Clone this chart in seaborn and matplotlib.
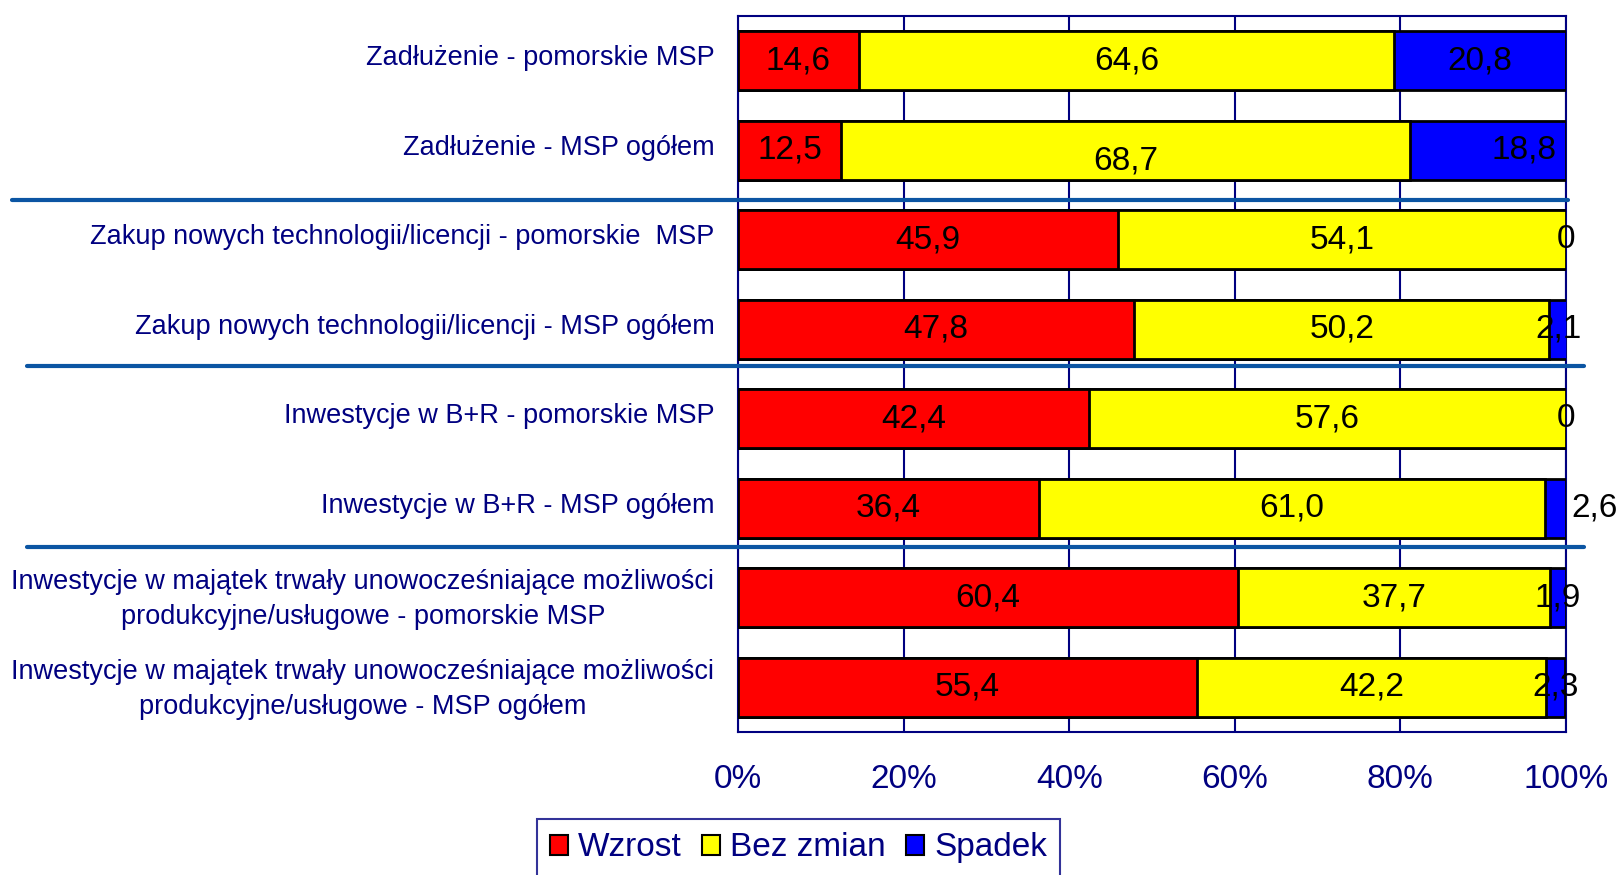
import matplotlib
matplotlib.use("Agg")
import matplotlib.pyplot as plt
import matplotlib.transforms as mtransforms
from matplotlib.patches import Patch
import seaborn as sns
import numpy as np

# data
categories = [
    "Zadłużenie - pomorskie MSP",
    "Zadłużenie - MSP ogółem",
    "Zakup nowych technologii/licencji - pomorskie  MSP",
    "Zakup nowych technologii/licencji - MSP ogółem",
    "Inwestycje w B+R - pomorskie MSP",
    "Inwestycje w B+R - MSP ogółem",
    "Inwestycje w majątek trwały unowocześniające możliwości\nprodukcyjne/usługowe - pomorskie MSP",
    "Inwestycje w majątek trwały unowocześniające możliwości\nprodukcyjne/usługowe - MSP ogółem",
]
wzrost = [14.6, 12.5, 45.9, 47.8, 42.4, 36.4, 60.4, 55.4]
bez_zmian = [64.6, 68.7, 54.1, 50.2, 57.6, 61.0, 37.7, 42.2]
spadek = [20.8, 18.8, 0, 2.1, 0, 2.6, 1.9, 2.3]
series_names = ["Wzrost", "Bez zmian", "Spadek"]
series_colors = ["#FF0000", "#FFFF00", "#0000FF"]
xticks = [0, 20, 40, 60, 80, 100]

NAVY = "#000080"
SEP = "#0B55A3"

sns.set_style("white")
plt.rcParams["font.family"] = ["Liberation Sans", "DejaVu Sans"]

fig = plt.figure(figsize=(16.23, 8.75), dpi=100)
ax = fig.add_axes([0.4547, 0.1634, 0.5102, 0.8183])

w = np.array(wzrost)
b = np.array(bez_zmian)
s = np.array(spadek)

# stacked bars: draw cumulative totals back to front
layers = [w + b + s, w + b, w]
for vals, col in zip(layers, series_colors[::-1]):
    sns.barplot(x=vals, y=categories, orient="h", color=col, width=0.66,
                edgecolor="black", linewidth=2, saturation=1, ax=ax, zorder=3)

ax.set_xlim(0, 100)
ax.set_ylim(7.5, -0.5)
ax.set_xticks(xticks)
ax.set_xticklabels([f"{t}%" for t in xticks])
ax.grid(axis="x", color=NAVY, linewidth=1.5, zorder=0)
ax.set_axisbelow(True)
ax.set_xlabel("")
ax.set_ylabel("")

for sp in ax.spines.values():
    sp.set_color(NAVY)
    sp.set_linewidth(1.5)

ax.tick_params(axis="x", colors=NAVY, labelsize=24, length=8, width=1.5,
               direction="inout", pad=19)
ax.tick_params(axis="y", which="major", length=0, pad=17, labelsize=19.5,
               labelcolor=NAVY)
ax.set_yticks(np.arange(-0.5, 8, 1), minor=True)
ax.tick_params(axis="y", which="minor", length=6, width=1.5, color=NAVY)
shift_up = mtransforms.ScaledTranslation(0, 4 / 72, fig.dpi_scale_trans)
for lab in ax.get_yticklabels():
    lab.set_multialignment("center")
    lab.set_linespacing(1.45)
    lab.set_transform(lab.get_transform() + shift_up)

# value labels
for i in range(len(categories)):
    starts = [0, w[i], w[i] + b[i]]
    for j, v in enumerate([w[i], b[i], s[i]]):
        txt = f"{v:.1f}".replace(".", ",") if v else "0"
        xc = min(starts[j] + v / 2, 100)
        dy = 0
        ha = "center"
        if i == 1 and j == 1:
            dy = 0.12
        if i == 1 and j == 2:
            xc = 98.8
            ha = "right"
        if i == 5 and j == 2:
            xc = 100.6
            ha = "left"
        ax.text(xc, i + dy, txt, ha=ha, va="center", fontsize=24,
                color="black", zorder=5, clip_on=False)

# separator lines between groups
tr = mtransforms.blended_transform_factory(fig.transFigure, ax.transData)
for y, x0, x1 in [(1.56, 0.0077, 0.966), (3.41, 0.0166, 0.976), (5.43, 0.0166, 0.976)]:
    ax.plot([x0, x1], [y, y], color=SEP, linewidth=3, transform=tr,
            clip_on=False, zorder=6)

handles = [Patch(facecolor=c, edgecolor="black", linewidth=1.5) for c in series_colors]
leg = fig.legend(handles, series_names, loc="upper center",
                 bbox_to_anchor=(0.492, 0.064), ncol=3, fontsize=24,
                 frameon=True, fancybox=False, handlelength=0.55,
                 handleheight=0.55, handletextpad=0.3, columnspacing=0.6,
                 borderpad=0.4, borderaxespad=0)
leg.get_frame().set_edgecolor(NAVY)
leg.get_frame().set_linewidth(1.5)
for t in leg.get_texts():
    t.set_color(NAVY)

fig.savefig("out.png", dpi=100)
